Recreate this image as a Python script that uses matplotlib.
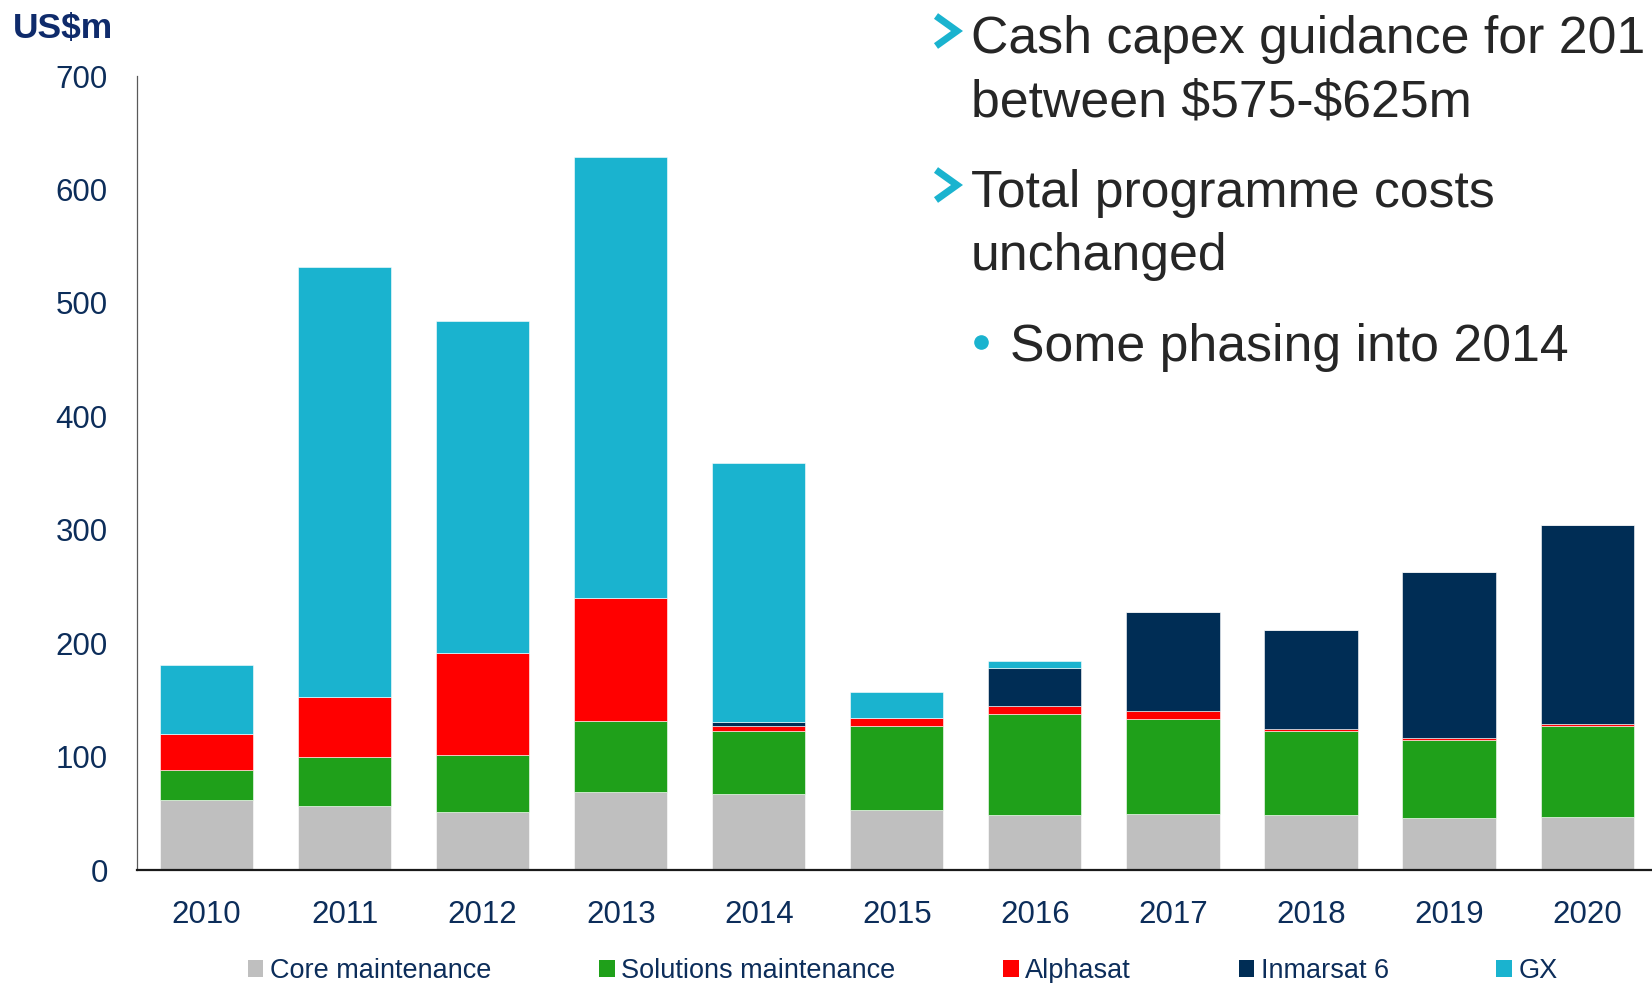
import matplotlib
matplotlib.use("Agg")
import matplotlib.pyplot as plt
from matplotlib.patches import Patch
from matplotlib.lines import Line2D
import numpy as np

plt.rcParams['font.family'] = ['Liberation Sans', 'DejaVu Sans']

# 数据（US$m）
years = ['2010', '2011', '2012', '2013', '2014', '2015', '2016', '2017', '2018', '2019', '2020']
core = [61.7, 56.4, 51.1, 69.0, 67.0, 53.2, 48.5, 49.1, 48.5, 46.1, 46.4]
solutions = [26.5, 43.0, 50.0, 62.4, 55.8, 73.4, 89.0, 84.0, 74.3, 68.8, 80.5]
alphasat = [32.0, 52.8, 89.9, 108.1, 3.8, 7.1, 6.8, 7.2, 1.2, 1.2, 1.5]
inmarsat6 = [0, 0, 0, 0, 4.1, 0, 33.8, 87.4, 87.6, 146.3, 175.5]
gx = [60.2, 379.4, 293.0, 389.4, 228.4, 22.9, 6.2, 0, 0, 0, 0]

series = [core, solutions, alphasat, inmarsat6, gx]
names = ['Core maintenance', 'Solutions maintenance', 'Alphasat', 'Inmarsat 6', 'GX']
colors = ['#bfbfbf', '#1fa01a', '#ff0000', '#002d55', '#1ab3cf']

W, H = 1652, 983
fig = plt.figure(figsize=(W / 100, H / 100), dpi=100)
ax = fig.add_axes([137 / W, 113 / H, 1 - 137 / W, 794 / H])

navy = '#0c2d5a'
x = np.arange(len(years))
bottom = np.zeros(len(years))
for vals, name, c in zip(series, names, colors):
    vals = np.array(vals, dtype=float)
    ax.bar(x, vals, width=0.675, bottom=bottom, color=c, edgecolor='white', linewidth=0.4, label=name)
    bottom += vals

ax.set_xlim(-0.504, 10.47)
ax.set_ylim(0, 700)
ax.set_yticks(range(0, 701, 100))
ax.set_xticks(x)
ax.set_xticklabels(years)
ax.tick_params(axis='both', length=0, labelsize=22.5, labelcolor=navy)
ax.tick_params(axis='y', pad=21)
ax.tick_params(axis='x', pad=21.5)

for s in ['top', 'right']:
    ax.spines[s].set_visible(False)
ax.spines['left'].set_color('#595959')
ax.spines['left'].set_linewidth(0.9)
ax.spines['bottom'].set_color('#1a1a1a')
ax.spines['bottom'].set_linewidth(1.6)

# 单位
fig.text(13 / W, 1 - 38 / H, 'US$m', fontsize=25.5, fontweight='bold', color='#0f2b6b', va='baseline')

# 右侧说明文字
txt_color = '#262626'
lines = [
    (971, 53, 'Cash capex guidance for 201'),
    (971, 116, 'between \\$575-\\$625m'),
    (971, 207, 'Total programme costs'),
    (971, 270, 'unchanged'),
    (1010, 361, 'Some phasing into 2014'),
]
for px, py, t in lines:
    fig.text(px / W, 1 - py / H, t, fontsize=37.3, color=txt_color, va='baseline')

cyan = '#1ab3cf'
for top in [13, 167]:
    fig.add_artist(Line2D([936 / W, 957 / W, 936 / W],
                          [1 - (top + 3) / H, 1 - (top + 18) / H, 1 - (top + 33) / H],
                          color=cyan, lw=5, solid_joinstyle='miter', solid_capstyle='butt'))
fig.add_artist(Line2D([980.5 / W], [1 - 342 / H], marker='o', markersize=9.5, color=cyan, lw=0))

# 图例
handles = [Patch(facecolor=c, edgecolor='none') for c in colors]
leg = fig.legend(handles, names, ncol=5, loc='center left', bbox_to_anchor=(248 / W, 12 / H),
                 frameon=False, fontsize=19.5, handlelength=0.57, handleheight=0.57,
                 handletextpad=0.25, columnspacing=3.97, borderpad=0, borderaxespad=0)
for t in leg.get_texts():
    t.set_color(navy)

fig.savefig('out.png', dpi=100)
